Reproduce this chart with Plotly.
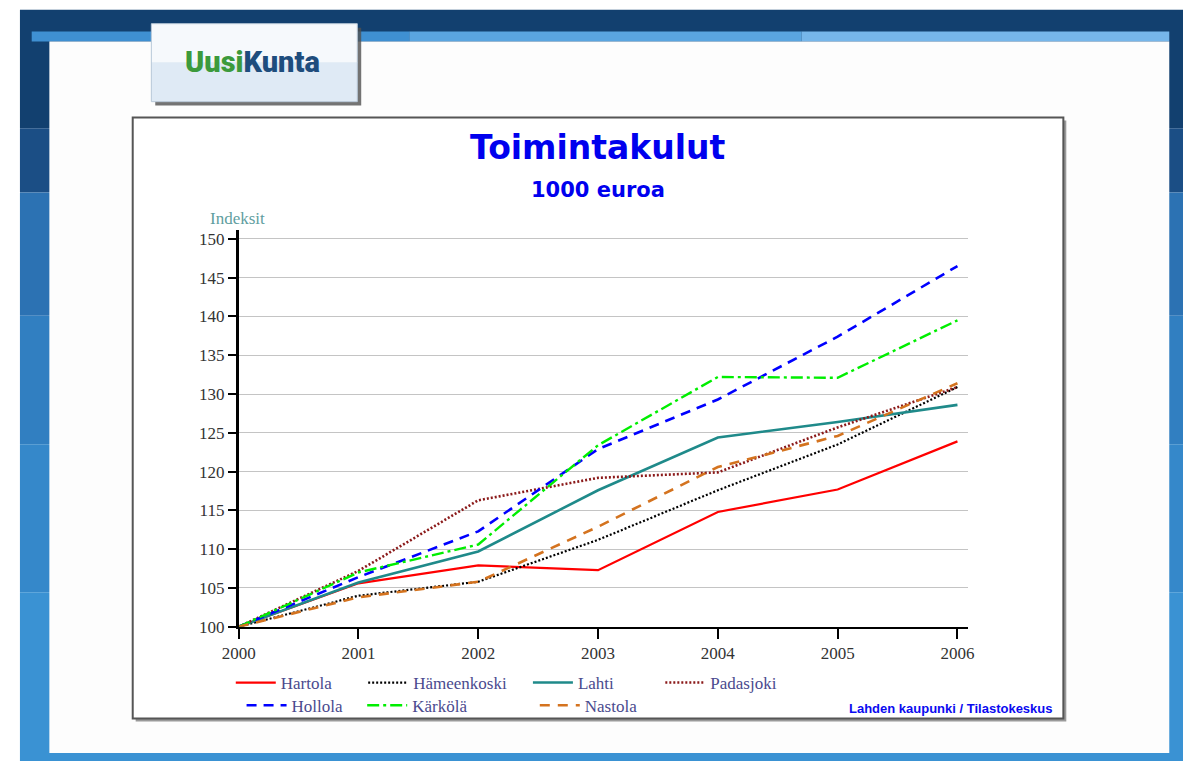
import plotly.graph_objects as go

# ---------------- data ----------------
years = [2000, 2001, 2002, 2003, 2004, 2005, 2006]
hartola = [100, 105.6, 107.9, 107.3, 114.8, 117.7, 123.9]
hameenkoski = [100, 104.0, 105.8, 111.2, 117.6, 123.5, 130.9]
lahti = [100, 105.7, 109.7, 117.6, 124.4, 126.4, 128.6]
padasjoki = [100, 107.2, 116.3, 119.2, 119.9, 125.7, 130.9]
hollola = [100, 106.4, 112.3, 122.9, 129.3, 137.4, 146.5]
karkola = [100, 107.0, 110.6, 123.4, 132.2, 132.1, 139.5]
nastola = [100, 103.8, 105.8, 112.9, 120.6, 124.6, 131.4]
series_names = ["Hartola", "Hämeenkoski", "Lahti", "Padasjoki", "Hollola", "Kärkölä", "Nastola"]
y_ticks = [100, 105, 110, 115, 120, 125, 130, 135, 140, 145, 150]
x_labels = ["2000", "2001", "2002", "2003", "2004", "2005", "2006"]

W, H = 1189, 771


def px(x):
    return x / W


def py(y):
    return 1 - y / H


def rect(x0, y0, x1, y1, fill, lw=0, lc="rgba(0,0,0,0)", opacity=1):
    return dict(type="rect", xref="paper", yref="paper",
                x0=px(x0), x1=px(x1), y0=py(y1), y1=py(y0),
                fillcolor=fill, line=dict(width=lw, color=lc),
                layer="below", opacity=opacity)


values = [hartola, hameenkoski, lahti, padasjoki, hollola, karkola, nastola]
styles = [
    dict(color="#ff0000", width=2.2, dash="solid"),
    dict(color="#000000", width=2.2, dash="2px,2px"),
    dict(color="#1f8a8a", width=2.6, dash="solid"),
    dict(color="#8b1a1a", width=2.6, dash="2px,2px"),
    dict(color="#0000ff", width=2.6, dash="10px,7px"),
    dict(color="#00ee00", width=2.4, dash="12px,4px,3px,4px"),
    dict(color="#d4731f", width=2.6, dash="10px,8px"),
]
legend_ids = ["legend", "legend2", "legend3", "legend4", "legend5", "legend6", "legend7"]
# legend label start (px) and row y (px) for each legend entry
legend_pos = [(270, 692), (405, 692), (573, 692), (708, 692),
              (281, 715), (404, 715), (580, 715)]

fig = go.Figure()
for name, vals, st, lid in zip(series_names, values, styles, legend_ids):
    fig.add_trace(go.Scatter(x=years, y=vals, mode="lines", name=name,
                             line=st, legend=lid, hoverinfo="skip"))

legend_font = dict(family="Liberation Serif, Times New Roman, serif", size=17, color="#4a4a8e")
legends = {}
for lid, (lx, ly) in zip(legend_ids, legend_pos):
    legends[lid] = dict(x=px(lx - 52), y=py(ly), xanchor="left", yanchor="middle",
                        bgcolor="rgba(0,0,0,0)", font=legend_font, borderwidth=0,
                        itemwidth=40, tracegroupgap=0)

shapes = [
    # page background
    rect(0, 0, W, 10, "#ffffff"),
    rect(3, 10, W, 130, "#12406f"),
    rect(3, 130, W, 195, "#1b4e85"),
    rect(3, 195, W, 320, "#2c72b3"),
    rect(3, 320, W, 450, "#317fc1"),
    rect(3, 450, W, 600, "#3588ca"),
    rect(3, 600, W, H, "#3a92d3"),
    # light blue bar
    rect(15, 32, 400, 42, "#3f90d2"),
    rect(400, 32, 800, 42, "#5aa5e0"),
    rect(800, 32, 1175, 42, "#76b6ea"),
    # white panel
    rect(33, 42, 1175, 763, "#fdfdfd"),
    # chart box shadow and box
    rect(121, 122, 1070, 731, "#9a9a9a"),
    rect(118, 119, 1067, 728, "#ffffff", lw=2, lc="#555555"),
    # logo box
    rect(141, 28, 351, 107, "#505050", opacity=0.8),
    rect(137, 24, 347, 64, "#f6f9fc", lw=0),
    rect(137, 63, 347, 103, "#dfeaf5", lw=0),
    rect(137, 24, 347, 103, "rgba(0,0,0,0)", lw=1, lc="#b8c8d8"),
]

annotations = [
    dict(text="<span style='color:#3c9a3c'>Uusi</span><span style='color:#1e4d7d'>Kunta</span>",
         x=px(240), y=py(63), xref="paper", yref="paper", showarrow=False,
         font=dict(family="Roboto, sans-serif", size=29, weight=900),
         xanchor="center", yanchor="middle"),
    dict(text="<b>Toimintakulut</b>", x=px(592), y=py(149), xref="paper", yref="paper",
         showarrow=False, font=dict(family="DejaVu Sans, sans-serif", size=33, color="#0000ee"),
         xanchor="center", yanchor="middle"),
    dict(text="<b>1000 euroa</b>", x=px(592), y=py(192), xref="paper", yref="paper",
         showarrow=False, font=dict(family="DejaVu Sans, sans-serif", size=21, color="#0000ee"),
         xanchor="center", yanchor="middle"),
    dict(text="Indeksit", x=px(225), y=py(221), xref="paper", yref="paper", showarrow=False,
         font=dict(family="Liberation Serif, Times New Roman, serif", size=17, color="#5f9ea0"),
         xanchor="center", yanchor="middle"),
    dict(text="<b>Lahden kaupunki / Tilastokeskus</b>", x=px(1058), y=py(718),
         xref="paper", yref="paper", showarrow=False,
         font=dict(family="Liberation Sans, Arial, sans-serif", size=13, color="#0a0af0"),
         xanchor="right", yanchor="middle"),
]

tick_font = dict(family="Liberation Serif, Times New Roman, serif", size=17, color="#333333")

fig.update_layout(
    width=W, height=H,
    margin=dict(l=0, r=0, t=0, b=0),
    paper_bgcolor="#ffffff",
    plot_bgcolor="rgba(0,0,0,0)",
    shapes=shapes,
    annotations=annotations,
    xaxis=dict(range=[2000, 2006.09], domain=[px(226), px(970)],
               tickmode="array", tickvals=years, ticktext=x_labels,
               showline=True, linecolor="#000000", linewidth=2,
               ticks="outside", ticklen=10, tickwidth=2, tickcolor="#000000",
               showgrid=False, zeroline=False, tickfont=tick_font, fixedrange=True),
    yaxis=dict(range=[100, 151.15], domain=[py(635), py(233)],
               tickmode="array", tickvals=y_ticks, ticktext=[str(v) for v in y_ticks],
               showline=True, linecolor="#000000", linewidth=2.5,
               ticks="outside", ticklen=8, tickwidth=1.5, tickcolor="#000000",
               showgrid=True, gridcolor="#c4c4c4", gridwidth=1,
               zeroline=False, tickfont=tick_font, fixedrange=True),
    showlegend=True,
    **legends,
)

post = (
    "document.documentElement.style.margin='0';"
    "document.documentElement.style.padding='0';"
    "document.documentElement.style.overflow='hidden';"
    "document.body.style.margin='0';"
    "document.body.style.padding='0';"
    "document.body.style.overflow='hidden';"
    "var d=document.getElementsByClassName('plotly-graph-div')[0];"
    "d.style.position='fixed';d.style.left='0px';d.style.top='0px';"
)
fig.write_html("out.html", config={"displayModeBar": False}, post_script=post)
